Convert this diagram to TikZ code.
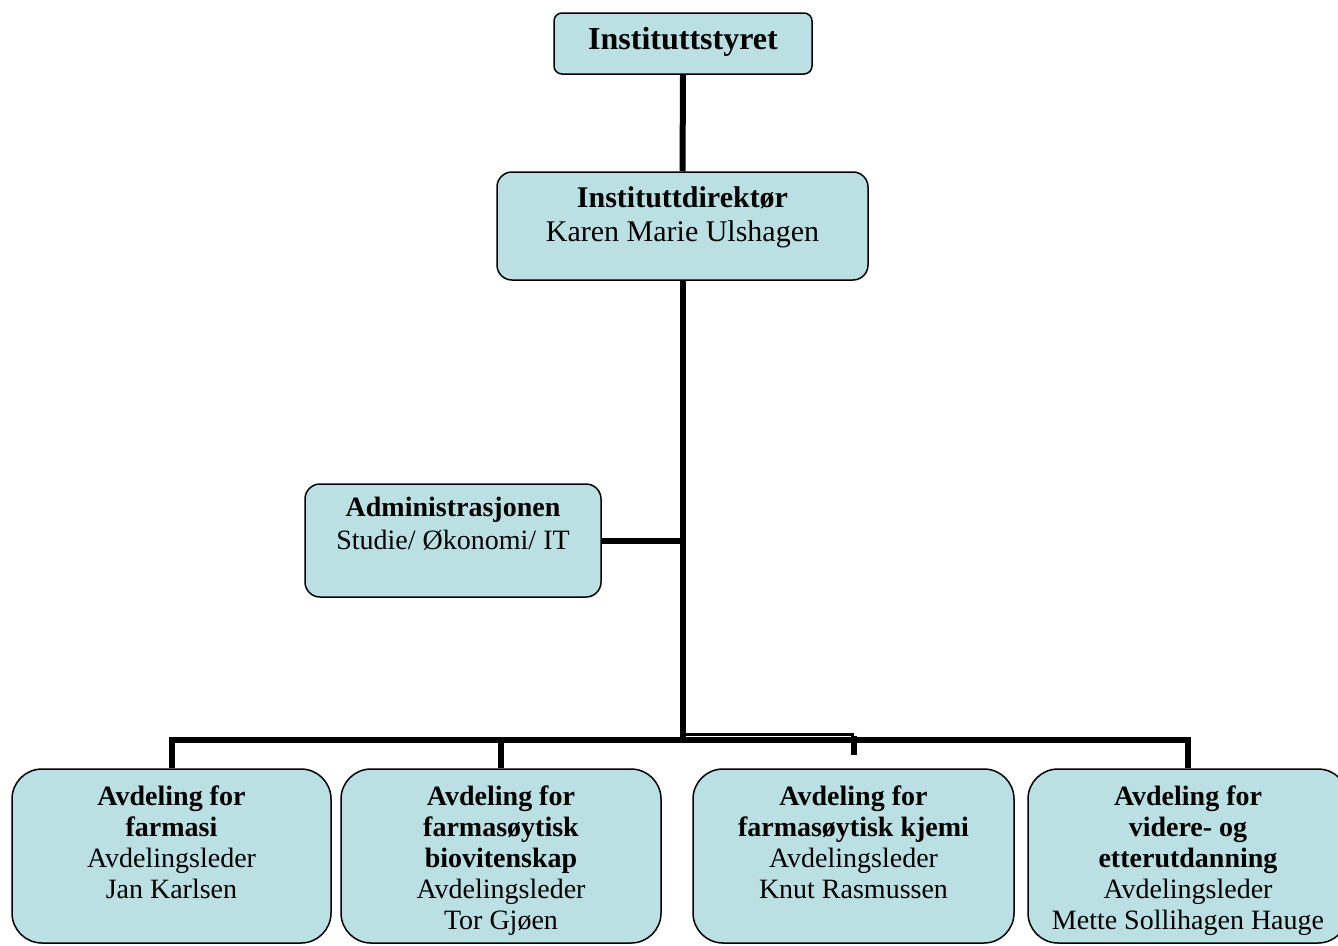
\documentclass[tikz,border=0pt]{standalone}
\usepackage{fontspec}
\setmainfont{Liberation Serif}
\usetikzlibrary{positioning}
\definecolor{boxblue}{RGB}{186,224,227}

\begin{document}
\begin{tikzpicture}[x=1pt, y=-1pt,
    orgbox/.style={draw=black, fill=boxblue, line width=1.5pt, inner sep=0pt, rounded corners=#1},
    orgbox/.default=15pt,
    orgtext/.style={align=center, inner sep=0pt, font=\fontsize{28}{31}\selectfont},
    link/.style={line width=6pt},
    thinlink/.style={line width=2.5pt}]

\useasboundingbox (0,0) rectangle (1338,945);

% boxes
\node[orgbox=8pt, minimum width=258, minimum height=61] (styret) at (683,43.5) {};
\node[orgbox, minimum width=371, minimum height=108] (direktor) at (682.5,226) {};
\node[orgbox, minimum width=296, minimum height=113] (admin) at (453,540.5) {};
\node[orgbox=30pt, minimum width=319, minimum height=174] (farmasi) at (171.5,856) {};
\node[orgbox=30pt, minimum width=320, minimum height=174] (bio) at (501,856) {};
\node[orgbox=30pt, minimum width=321, minimum height=174] (kjemi) at (853.5,856) {};
\node[orgbox=30pt, minimum width=320, minimum height=174] (videre) at (1188,856) {};

% texts
\node[orgtext, font=\bfseries\fontsize{32}{36}\selectfont, anchor=base] (styrettxt) at (683,49) {Instituttstyret};
\node[orgtext, font=\fontsize{30}{34}\selectfont, below=15pt of direktor.north] (direktortxt)
    {\textbf{Instituttdirektør}\\Karen Marie Ulshagen};
\node[orgtext, font=\fontsize{28}{33}\selectfont, below=14pt of admin.north] (admintxt)
    {\textbf{Administrasjonen}\\Studie/ Økonomi/ IT};
\node[orgtext, below=17pt of farmasi.north] (farmasitxt)
    {\textbf{Avdeling for}\\\textbf{farmasi}\\Avdelingsleder\\Jan Karlsen};
\node[orgtext, below=17pt of bio.north] (biotxt)
    {\textbf{Avdeling for}\\\textbf{farmasøytisk}\\\textbf{biovitenskap}\\Avdelingsleder\\Tor Gjøen};
\node[orgtext, below=17pt of kjemi.north] (kjemitxt)
    {\textbf{Avdeling for}\\\textbf{farmasøytisk kjemi}\\Avdelingsleder\\Knut Rasmussen};
\node[orgtext, below=17pt of videre.north] (vidertxt)
    {\textbf{Avdeling for}\\\textbf{videre- og}\\\textbf{etterutdanning}\\Avdelingsleder\\Mette Sollihagen Hauge};

% connectors
\coordinate (bus) at (682.5,740);
\coordinate (step) at (682.5,734.5);
\coordinate (kjemitick) at (853.5,755);

\draw[link] (styret.south) -- (direktor.north);
\draw[link] (direktor.south) -- (bus);
\draw[link] (admin.east) -- (admin.east -| direktor.south);
\draw[link] (farmasi.north) -- (farmasi.north |- bus) -- (videre.north |- bus) -- (videre.north);
\draw[link] (bio.north |- bus) -- (bio.north);
\draw[thinlink] (step) -- (step -| kjemitick);
\draw[link] ([yshift=-1]step -| kjemitick) -- (kjemitick);
\end{tikzpicture}
\end{document}
